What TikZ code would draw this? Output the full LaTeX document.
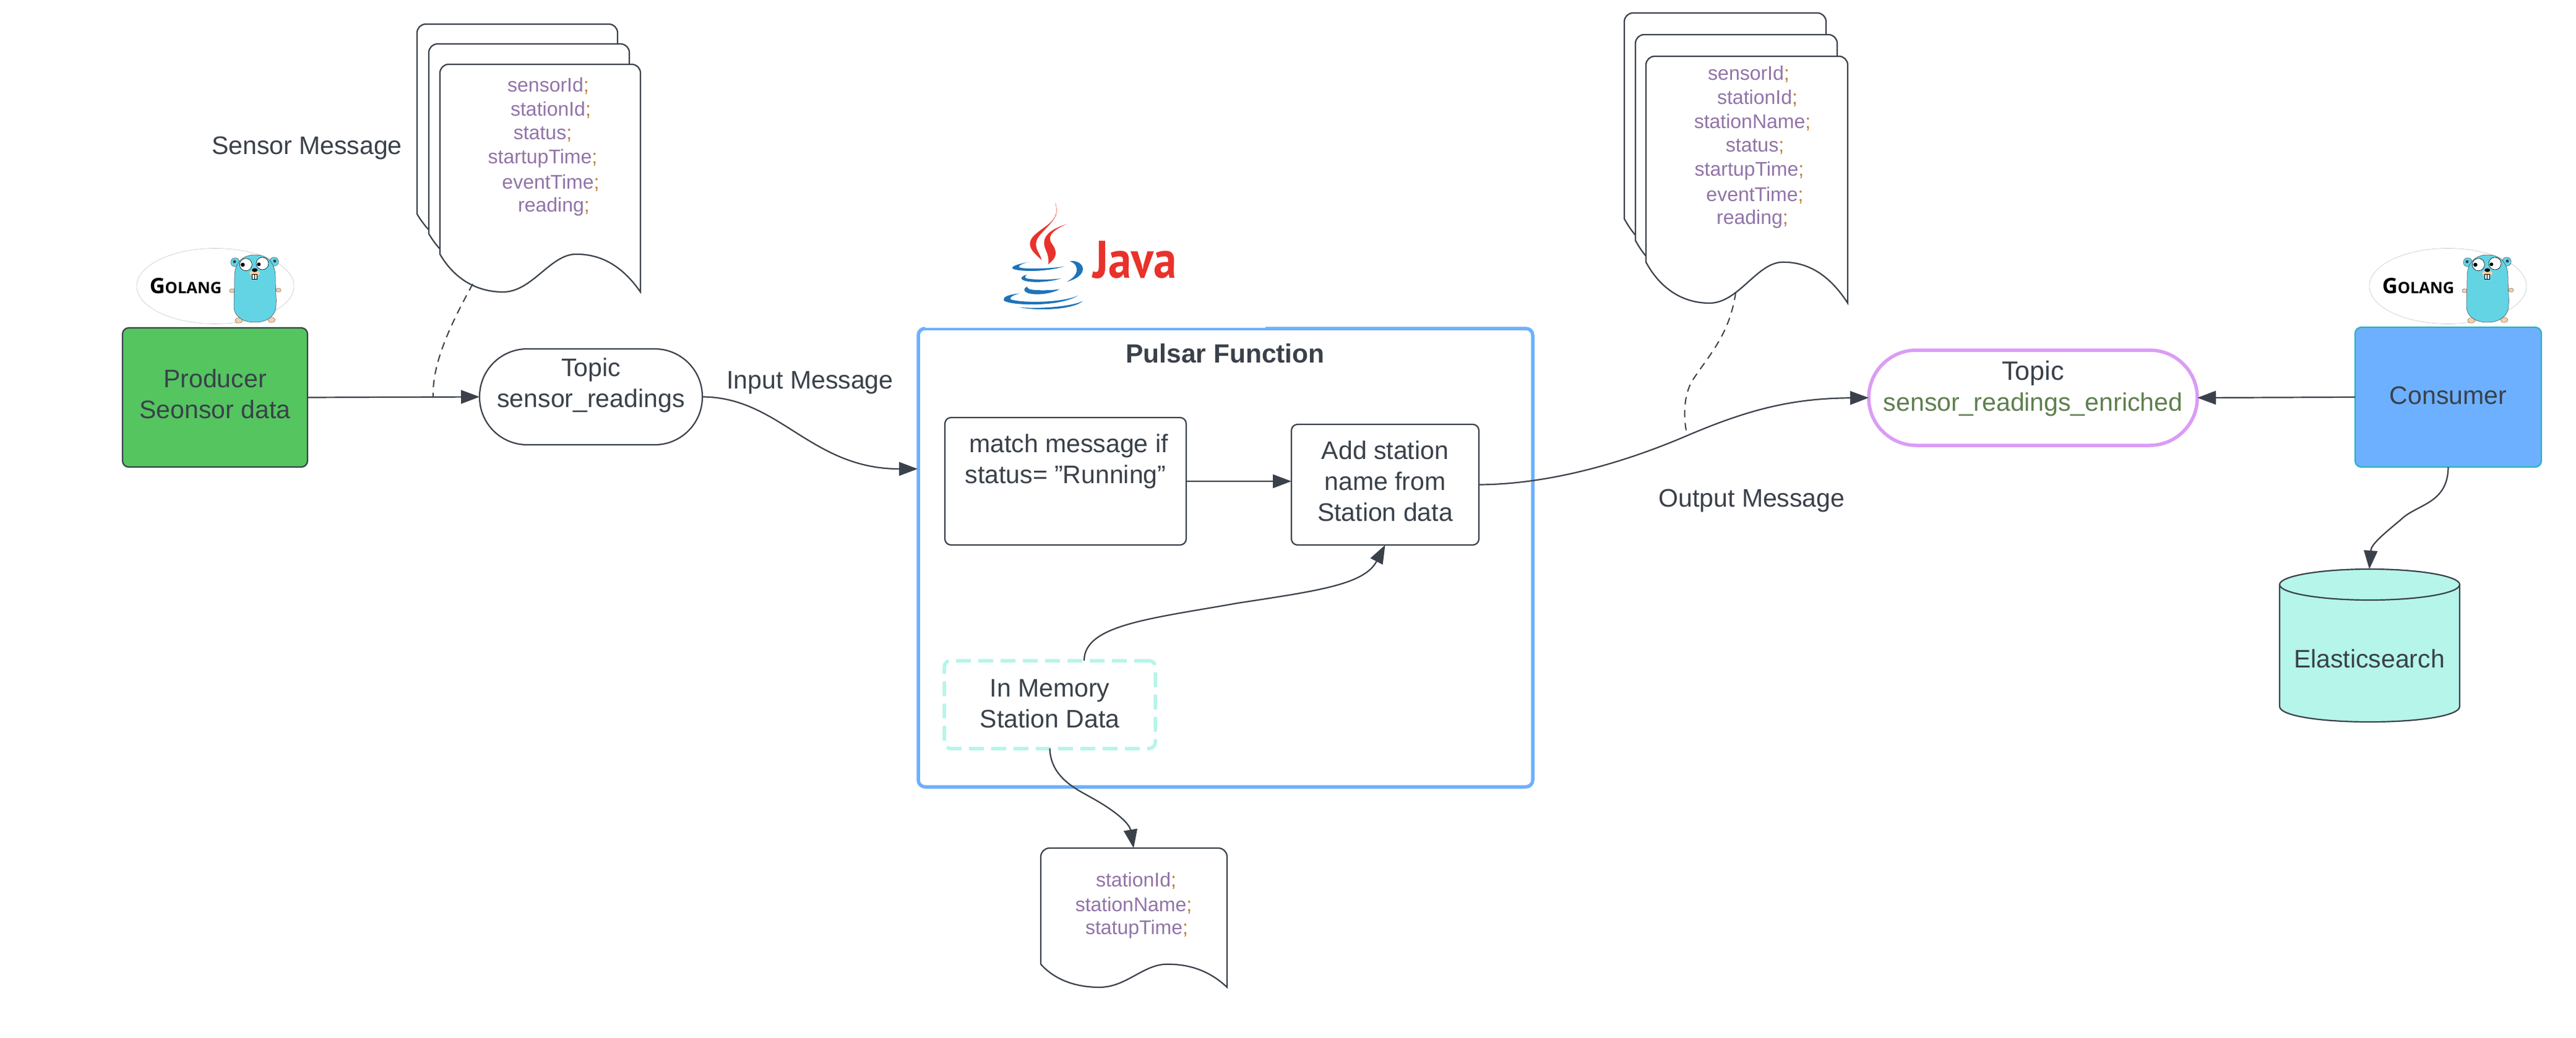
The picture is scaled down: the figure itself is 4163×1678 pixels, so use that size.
\documentclass[tikz,border=0pt]{standalone}
\usepackage{fontspec}
\setmainfont{Liberation Sans}
\newfontfamily\golangfont{Open Sans}
\newfontfamily\javafont{PT Sans}
\usetikzlibrary{arrows.meta,shapes.geometric}
\definecolor{ink}{HTML}{3A414A}
\definecolor{prodgreen}{HTML}{54C55F}
\definecolor{skyblue}{HTML}{6CB0FF}
\definecolor{mint}{HTML}{B5F5EA}
\definecolor{orchid}{HTML}{DB9CF5}
\definecolor{tealedge}{HTML}{2AB3BF}
\definecolor{fieldc}{HTML}{9174A8}
\definecolor{semic}{HTML}{C47E2E}
\definecolor{moss}{HTML}{5E7F4E}
\definecolor{goblue}{HTML}{63D4E4}
\definecolor{peach}{HTML}{F6CFA5}
\definecolor{javared}{HTML}{E8322B}
\definecolor{javablue}{HTML}{1E73B9}
\newcommand\fld[1]{{\color{fieldc}#1}{\color{semic};}}
\newcommand\msgdoc[4]{%
  \begin{scope}[shift={(#1,#2)},x=#3,y=-#4]
    \draw[docline] (0,.834) {[rounded corners=1.4mm] -- (0,0) -- (1,0) -- (1,.5)} -- (1,1)
      .. controls (.89,.86) and (.77,.834) .. (.679,.834)
      .. controls (.55,.834) and (.46,1) .. (.315,1)
      .. controls (.18,1) and (.07,.94) .. (0,.834) -- cycle;
  \end{scope}}
\newcommand\golanglogo[2]{%
  \begin{scope}[shift={(#1,0)}]
    \node[ellipse node] (#2oval) at (348,462.5) {};
    \node[golang] (#2text) at (300,462) {{\fontsize{3.45mm}{4mm}\selectfont G}{\fontsize{2.55mm}{4mm}\selectfont OLANG}};
    \fill[peach,draw=ink,line width=.03mm] (375,470) ellipse [x radius=.42mm,y radius=.32mm];
    \fill[peach,draw=ink,line width=.03mm] (450,469) ellipse [x radius=.42mm,y radius=.32mm];
    \fill[peach,draw=ink,line width=.03mm] (385.7,518) ellipse [x radius=.6mm,y radius=.42mm];
    \fill[peach,draw=ink,line width=.03mm] (438.7,517) ellipse [x radius=.6mm,y radius=.42mm];
    \fill[goblue,draw=ink,line width=.04mm] (380,424) circle [radius=.72mm];
    \fill[goblue,draw=ink,line width=.04mm] (443,423) circle [radius=.72mm];
    \fill[ink] (379,423) circle [radius=.25mm];
    \fill[ink] (444,422) circle [radius=.25mm];
    \fill[goblue,draw=ink,line width=.05mm] (379,447) .. controls (379,425) and (392,412) .. (412,412)
      .. controls (432,412) and (445,425) .. (445,447) .. controls (445,470) and (447,480) .. (446,495)
      .. controls (445,512) and (430,521) .. (412,521) .. controls (393,521) and (378,512) .. (378,495)
      .. controls (378,480) and (379,470) .. (379,447) -- cycle;
    \fill[white,draw=black,line width=.06mm] (397.3,427.7) circle [radius=1mm];
    \fill[white,draw=black,line width=.06mm] (424,426) circle [radius=1mm];
    \fill[black] (392.3,428) circle [radius=.33mm];
    \fill[black] (418.3,427.3) circle [radius=.3mm];
    \fill[peach] (411.7,441.5) ellipse [x radius=.85mm,y radius=.42mm];
    \fill[black] (411.7,436.7) ellipse [x radius=.45mm,y radius=.3mm];
    \fill[white,draw=black,line width=.03mm] (406.7,443) rectangle (410.9,451);
    \fill[white,draw=black,line width=.03mm] (411.3,443) rectangle (415.5,451);
  \end{scope}}
\tikzset{
  x=.1mm,y=-.1mm,
  base/.style={inner sep=0,outer sep=0,text=ink,font=\fontsize{4.1mm}{5mm}\selectfont,align=center},
  lab/.style={base,yshift=-.3mm},
  field/.style={inner sep=0,outer sep=0,yshift=-.25mm,font=\fontsize{3.2mm}{3.9mm}\selectfont},
  box/.style={base,draw=ink,line width=.22mm,rounded corners=1mm,fill=white},
  docline/.style={draw=ink,line width=.22mm,fill=white},
  conn/.style={draw=ink,line width=.22mm,-{Triangle[length=3mm,width=2.2mm]}},
  dashconn/.style={draw=ink,line width=.2mm,dash pattern=on 1.2mm off .9mm},
  ellipse node/.style={draw=black!22,line width=.06mm,fill=white,minimum width=25.4mm,minimum height=12.2mm,shape=ellipse,inner sep=0,outer sep=0},
  golang/.style={inner sep=0,outer sep=0,text=black,font=\golangfont\bfseries},
}
\begin{document}
\begin{tikzpicture}
\useasboundingbox (0,0) rectangle (4163,1678);

% --- left message stack
\msgdoc{674}{39}{32.4mm}{36.8mm}
\msgdoc{693}{71}{32.4mm}{36.8mm}
\msgdoc{711}{104}{32.4mm}{36.8mm}
\node[field] (a1) at (886,136) {\fld{sensorId}};
\node[field] (a2) at (890,175) {\fld{stationId}};
\node[field] (a3) at (877,215) {\fld{status}};
\node[field] (a4) at (877,254) {\fld{startupTime}};
\node[field] (a5) at (890,293) {\fld{eventTime}};
\node[field] (a6) at (895,332) {\fld{reading}};
\node[lab] (sensormsg) at (496,236) {Sensor Message};

% --- right message stack
\msgdoc{2625}{21}{32.6mm}{39.9mm}
\msgdoc{2643}{56}{32.6mm}{39.9mm}
\msgdoc{2660}{91}{32.6mm}{39.9mm}
\node[field] (b1) at (2826,117) {\fld{sensorId}};
\node[field] (b2) at (2840,156) {\fld{stationId}};
\node[field] (b3) at (2832,195) {\fld{stationName}};
\node[field] (b4) at (2836,235) {\fld{status}};
\node[field] (b5) at (2827,274) {\fld{startupTime}};
\node[field] (b6) at (2836,313) {\fld{eventTime}};
\node[field] (b7) at (2832,352) {\fld{reading}};

% --- station document
\msgdoc{1682}{1371}{30.1mm}{22.5mm}
\node[field] (c1) at (1836,1421) {\fld{stationId}};
\node[field] (c2) at (1832,1461) {\fld{stationName}};
\node[field] (c3) at (1837,1500) {\fld{statupTime}};

% --- logos
\golanglogo{0}{goa}
\golanglogo{3608}{gob}

% --- java logo
\begin{scope}[shift={(1600,310)},x=.03333mm,y=-.03333mm]
  \fill[javared] (315,52) .. controls (335,110) and (310,140) .. (260,175) .. controls (205,215) and (175,240) .. (205,285) .. controls (220,305) and (240,320) .. (250,332) .. controls (245,300) and (215,280) .. (225,240) .. controls (235,200) and (310,155) .. (322,105) .. controls (325,85) and (322,65) .. (315,52) -- cycle;
  \fill[javared] (372,157) .. controls (330,170) and (265,195) .. (262,245) .. controls (260,280) and (290,300) .. (282,352) .. controls (310,330) and (325,310) .. (315,280) .. controls (305,250) and (280,240) .. (295,210) .. controls (305,190) and (340,170) .. (372,157) -- cycle;
  \fill[javablue] (190,340) .. controls (140,350) and (105,360) .. (108,370) .. controls (110,385) and (250,395) .. (362,362) .. controls (300,372) and (170,378) .. (140,366) .. controls (135,358) and (165,345) .. (190,340) -- cycle;
  \fill[javablue] (385,338) .. controls (420,330) and (450,350) .. (450,375) .. controls (450,400) and (420,425) .. (372,436) .. controls (405,420) and (425,395) .. (420,370) .. controls (415,350) and (400,340) .. (385,338) -- cycle;
  \fill[javablue] (178,402) .. controls (150,410) and (148,420) .. (155,425) .. controls (180,445) and (290,440) .. (345,420) .. controls (300,428) and (190,428) .. (172,418) .. controls (168,412) and (172,405) .. (178,402) -- cycle;
  \fill[javablue] (180,460) .. controls (160,470) and (162,482) .. (180,490) .. controls (220,505) and (300,495) .. (338,472) .. controls (300,480) and (210,480) .. (190,472) .. controls (182,468) and (180,464) .. (180,460) -- cycle;
  \fill[javablue] (145,493) .. controls (90,498) and (62,510) .. (66,525) .. controls (72,550) and (330,565) .. (428,503) .. controls (350,540) and (150,540) .. (100,522) .. controls (92,512) and (115,500) .. (145,493) -- cycle;
  \fill[javablue] (140,560) .. controls (220,578) and (400,575) .. (450,530) .. controls (400,555) and (250,570) .. (140,560) -- cycle;
\end{scope}
\node[inner sep=0,outer sep=0,anchor=base west,text=javared,font=\javafont\bfseries\fontsize{7.5mm}{8mm}\selectfont] (javaword) at (1766,449) {\scalebox{1}[1.14]{Java}};

% --- main nodes
\node[box,fill=prodgreen,minimum width=29.9mm,minimum height=22.5mm] (prod) at (347.5,642.5) {Producer\\Seonsor data\\[-3.8mm]\mbox{}};
\node[box,rounded corners=7.7mm,minimum width=36mm,minimum height=15.5mm] (topica) at (955,641.5) {Topic\\sensor\_readings\\[-.4mm]\mbox{}};
\node[lab] (inmsg) at (1309,616) {Input Message};

\node[base,draw=skyblue,line width=.55mm,rounded corners=1.1mm,minimum width=99.3mm,minimum height=74.1mm] (pulsar) at (1980.5,901.5) {};
\fill[white] (1495,500) rectangle (2045,530);
\node[base,font=\bfseries\fontsize{4.25mm}{5mm}\selectfont] (pulsartitle) at (1980,571) {Pulsar Function};
\node[box,minimum width=39mm,minimum height=20.6mm] (match) at (1722,778) {\hspace*{1mm}match message if\\status= "Running"\\[2.2mm]\mbox{}};
\node[box,minimum width=30.3mm,minimum height=19.5mm] (add) at (2238.5,783.5) {Add station\\name from\\Station data\\[-3.8mm]\mbox{}};
\node[base,draw=mint,line width=.55mm,rounded corners=1mm,dash pattern=on 2.4mm off 1.2mm,minimum width=34.1mm,minimum height=14.2mm] (mem) at (1696.5,1139) {In Memory\\Station Data\\[-4.6mm]\mbox{}};

\node[base,draw=orchid,line width=.55mm,rounded corners=7.7mm,fill=white,minimum width=53.1mm,minimum height=15.4mm] (topicb) at (3285.5,643) {{\fontsize{4.3mm}{5.3mm}\selectfont Topic}\\{\color{moss}\fontsize{4.1mm}{5.3mm}\selectfont sensor\_readings\_enriched}\\[-1.1mm]\mbox{}};
\node[lab] (outmsg) at (2831,806) {Output Message};
\node[box,draw=tealedge,fill=skyblue,minimum width=30.1mm,minimum height=22.6mm] (cons) at (3956.5,642) {Consumer\\[-4.4mm]\mbox{}};

% --- elasticsearch cylinder
\draw[draw=ink,line width=.22mm,fill=mint] (3684,945) -- (3684,1142) .. controls (3684,1157) and (3749,1167) .. (3829.5,1167) .. controls (3910,1167) and (3975,1157) .. (3975,1142) -- (3975,945) -- cycle;
\draw[draw=ink,line width=.22mm,fill=mint] (3829.5,945) ellipse [x radius=14.55mm,y radius=2.5mm];
\node[lab,yshift=.3mm] (es) at (3829,1065) {Elasticsearch};

% --- free connector ends
\coordinate (esTop) at (3829,920);
\coordinate (pulsarIn) at (1483,758);
\coordinate (stationTop) at (1832,1371);
\coordinate (docAtail) at (764,459);
\coordinate (lineA) at (700,642.5);
\coordinate (docBtail) at (2805,473);
\coordinate (lineB) at (2727,704);

% --- connectors
\draw[conn] (prod.east) -- (topica.west);
\draw[dashconn] (docAtail) .. controls (725,530) and (698,590) .. (lineA);
\draw[conn] (topica.east) .. controls (1260,642) and (1310,758) .. (pulsarIn);
\draw[conn] (match.east) -- (match.east -| add.west);
\draw[conn] (1752,1068) .. controls (1752,1010) and (1860,1000) .. (2000,975) .. controls (2130,955) and (2205,945) .. (add.south);
\draw[conn] (mem.south) .. controls (1698,1260) and (1745,1278) .. (1770,1293) .. controls (1800,1310) and (1825,1330) .. (stationTop);
\draw[conn] (add.east) .. controls (2500,783) and (2620,750) .. (lineB) .. controls (2830,660) and (2900,644) .. (topicb.west);
\draw[dashconn] (docBtail) .. controls (2795,540) and (2765,570) .. (2735,615) .. controls (2720,640) and (2720,680) .. (lineB);
\draw[conn] (cons.west) -- (topicb.east);
\draw[conn] (cons.south) .. controls (3956,815) and (3905,815) .. (3880,840) .. controls (3850,865) and (3832,880) .. (esTop);
\end{tikzpicture}
\end{document}
